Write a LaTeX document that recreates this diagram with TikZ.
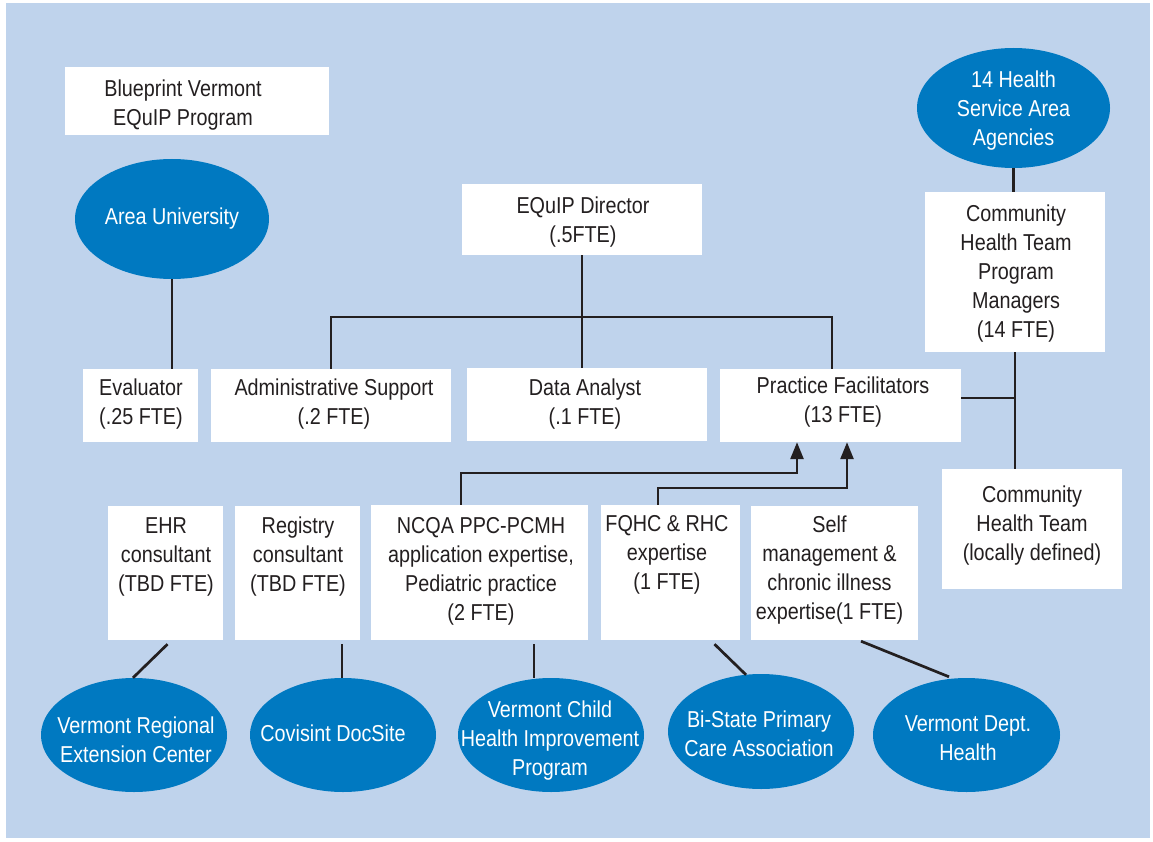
\documentclass[tikz,border=0pt]{standalone}
\usepackage{fontspec}
\setmainfont{Liberation Sans}[FakeStretch=0.86]
\usetikzlibrary{shapes.geometric,arrows.meta}
\definecolor{bgblue}{RGB}{191,211,236}
\definecolor{ellblue}{RGB}{0,121,193}
\definecolor{ink}{RGB}{35,31,32}
\begin{document}
\begin{tikzpicture}[x=1pt,y=-1pt,
  box/.style={rectangle,fill=white,inner sep=0pt},
  txt/.style={anchor=north,inner sep=0pt,align=center,text=ink,font=\fontsize{23pt}{29pt}\selectfont},
  etxt/.style={txt,text=white},
  ell/.style={ellipse,fill=ellblue,inner sep=0pt},
  conn/.style={draw=ink,line width=2.7pt},
  arr/.style={conn,-{Triangle[length=17pt,width=13pt]}}
]
\useasboundingbox (0,0) rectangle (1153,842);
\fill[white] (0,0) rectangle (1153,842);
\fill[bgblue] (6,3) rectangle (1150,838);

% boxes
\node[box,minimum width=264pt,minimum height=68pt] (bp) at (197,101) {};
\node[box,minimum width=240pt,minimum height=71pt] (dir) at (582,219.5) {};
\node[box,minimum width=115pt,minimum height=73pt] (eval) at (140.5,405.5) {};
\node[box,minimum width=240pt,minimum height=73pt] (adm) at (331,405.5) {};
\node[box,minimum width=240pt,minimum height=73pt] (data) at (587,404.5) {};
\node[box,minimum width=241pt,minimum height=73pt] (pf) at (840.5,405.5) {};
\node[box,minimum width=180pt,minimum height=160pt] (chtpm) at (1015,272) {};
\node[box,minimum width=180pt,minimum height=120pt] (chtl) at (1032,529) {};
\node[box,minimum width=115pt,minimum height=134pt] (ehr) at (165.5,573) {};
\node[box,minimum width=125pt,minimum height=134pt] (reg) at (297.5,573) {};
\node[box,minimum width=217pt,minimum height=135pt] (ncqa) at (479.5,572.5) {};
\node[box,minimum width=139pt,minimum height=135pt] (fqhc) at (670.5,572.5) {};
\node[box,minimum width=167pt,minimum height=134pt] (self) at (834.5,573) {};

% box texts
\node[txt] (bpt) at (183,80) {Blueprint Vermont\\EQuIP Program};
\node[txt] (dirt) at (583,197) {EQuIP Director\\(.5FTE)};
\node[txt] (evalt) at (141,379) {Evaluator\\(.25 FTE)};
\node[txt] (admt) at (334,379) {Administrative Support\\(.2 FTE)};
\node[txt] (datat) at (585,379) {Data Analyst\\(.1 FTE)};
\node[txt] (pft) at (843,377) {Practice Facilitators\\(13 FTE)};
\node[txt] (chtpmt) at (1016,205) {Community\\Health Team\\Program\\Managers\\(14 FTE)};
\node[txt] (chtlt) at (1032,486) {Community\\Health Team\\(locally defined)};
\node[txt] (ehrt) at (166,517) {EHR\\consultant\\(TBD FTE)};
\node[txt] (regt) at (298,517) {Registry\\consultant\\(TBD FTE)};
\node[txt] (ncqat) at (481,517) {NCQA PPC-PCMH\\application expertise,\\Pediatric practice\\(2 FTE)};
\node[txt] (fqhct) at (667,515) {FQHC \& RHC\\expertise\\(1 FTE)};
\node[txt] (selft) at (829.5,516) {Self\\management \&\\chronic illness\\expertise(1 FTE)};

% ellipses
\node[ell,minimum width=194pt,minimum height=120pt] (au) at (172,219) {};
\node[ell,minimum width=193pt,minimum height=120pt] (hsa) at (1013.5,108) {};
\node[ell,minimum width=186pt,minimum height=114pt] (vrec) at (134,735) {};
\node[ell,minimum width=186pt,minimum height=114pt] (cov) at (343,735) {};
\node[ell,minimum width=186pt,minimum height=114pt] (vchild) at (551,735) {};
\node[ell,minimum width=186pt,minimum height=115pt] (bist) at (761,731.5) {};
\node[ell,minimum width=187pt,minimum height=114pt] (dept) at (966.5,735) {};

% ellipse texts
\node[etxt] (aut) at (172,208) {Area University};
\node[etxt] (hsat) at (1013.5,71) {14 Health\\Service Area\\Agencies};
\node[etxt] (vrect) at (136,717) {Vermont Regional\\Extension Center};
\node[etxt] (covt) at (333,725) {Covisint DocSite};
\node[etxt] (vchildt) at (550,701) {Vermont Child\\Health Improvement\\Program};
\node[etxt] (bistt) at (759,711) {Bi-State Primary\\Care Association};
\node[etxt] (deptt) at (968,715) {Vermont Dept.\\Health};

% connectors
\coordinate (bus) at (582,317);
\coordinate (a1) at (797,473);
\coordinate (a2) at (847,488);
\draw[conn] (au.south) -- (au.south |- eval.north);
\draw[conn] (hsa.south) -- (hsa.south |- chtpm.north);
\draw[conn] (chtpm.south) -- (chtpm.south |- chtl.north);
\draw[conn] ([yshift=7.5pt]pf.east) -- ([yshift=7.5pt]pf.east -| chtpm.south);
\draw[conn] (dir.south) -- (dir.south |- data.north);
\draw[conn] (adm.north) |- (bus) -| ([xshift=-8.5pt]pf.north);
\draw[arr] ([xshift=-18.5pt]ncqa.north) |- (a1) -- ([xshift=-43.5pt]pf.south);
\draw[arr] ([xshift=-12.5pt]fqhc.north) |- (a2) -- ([xshift=6.5pt]pf.south);
\draw[conn] ([xshift=2pt,yshift=-4pt]ehr.south) -- ([xshift=-1pt]vrec.north);
\draw[conn] ([xshift=44.5pt,yshift=-4pt]reg.south) coordinate (r1) -- (r1 |- cov.north);
\draw[conn] ([xshift=54.5pt,yshift=-4pt]ncqa.south) coordinate (n1) -- (n1 |- vchild.north);
\draw[conn] ([xshift=44pt,yshift=-4pt]fqhc.south) -- ([xshift=-15pt,yshift=-1pt]bist.north);
\draw[conn] ([xshift=26.5pt,yshift=-1pt]self.south) -- ([xshift=-17.5pt,yshift=1pt]dept.north);
\end{tikzpicture}
\end{document}
